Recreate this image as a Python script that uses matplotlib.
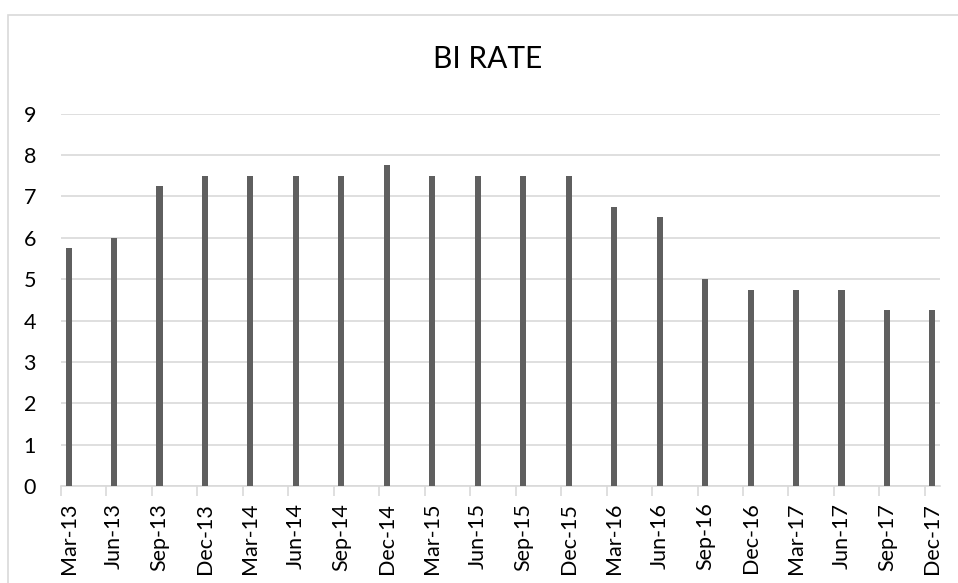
import numpy as np
import matplotlib.pyplot as plt
from matplotlib.patches import Rectangle

# BI rate, quarterly (months counted from Mar-13)
quarters = ['Mar-13', 'Jun-13', 'Sep-13', 'Dec-13', 'Mar-14', 'Jun-14', 'Sep-14',
            'Dec-14', 'Mar-15', 'Jun-15', 'Sep-15', 'Dec-15', 'Mar-16', 'Jun-16',
            'Sep-16', 'Dec-16', 'Mar-17', 'Jun-17', 'Sep-17', 'Dec-17']
month_index = list(range(0, 60, 3))
bi_rate = [5.75, 6.0, 7.25, 7.5, 7.5, 7.5, 7.5, 7.75, 7.5, 7.5, 7.5, 7.5,
           6.75, 6.5, 5.0, 4.75, 4.75, 4.75, 4.25, 4.25]
y_ticks = list(range(0, 10))

plt.rcParams['font.family'] = ['Lato', 'DejaVu Sans']

fig = plt.figure(figsize=(9.58, 5.83), dpi=100)
ax = fig.add_axes([61 / 958, 1 - 486 / 583, 879 / 958, (486 - 113.7) / 583])

# chart area border (top and left edges visible)
fig.patches.append(Rectangle((8 / 958, -0.05), 1.2, 1 - 15 / 583 + 0.05,
                             transform=fig.transFigure, fill=False,
                             edgecolor='#d9d9d9', linewidth=1.2))

ax.bar(month_index, bi_rate, width=0.4, color='#5f5f5f', zorder=3)

ax.set_xlim(-0.5, month_index[-1] + 0.5)
ax.set_ylim(0, 9)
ax.set_yticks(y_ticks)
ax.grid(axis='y', color='#d9d9d9', linewidth=1.2, zorder=0)

ax.set_xticks(month_index)
ax.set_xticklabels(quarters, rotation=90)
ax.set_xticks([m - 0.5 for m in month_index], minor=True)
ax.tick_params(axis='x', which='major', length=0, pad=12, labelsize=15.5)
ax.tick_params(axis='x', which='minor', length=7, color='#d9d9d9', width=1.2)
ax.tick_params(axis='y', length=0, pad=18, labelsize=15.5)

for side in ['top', 'right', 'left']:
    ax.spines[side].set_visible(False)
ax.spines['bottom'].set_color('#d9d9d9')
ax.spines['bottom'].set_linewidth(1.2)

fig.text(488 / 958, 1 - 59 / 583, 'BI RATE', ha='center', va='center', fontsize=21.5)

fig.savefig('out.png', dpi=100)
